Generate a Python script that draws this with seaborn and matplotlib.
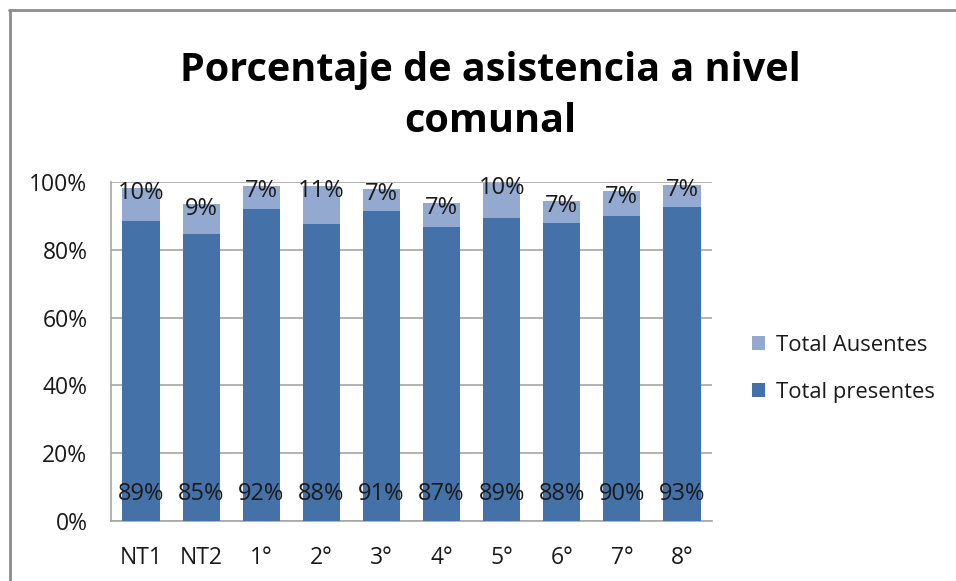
import matplotlib
matplotlib.use("Agg")
import matplotlib.pyplot as plt
import seaborn as sns
import pandas as pd
from matplotlib.patches import Patch
from matplotlib.lines import Line2D

categorias = ["NT1", "NT2", "1°", "2°", "3°", "4°", "5°", "6°", "7°", "8°"]
presentes = [88.6, 84.7, 92.0, 87.7, 91.4, 86.6, 89.3, 87.9, 90.0, 92.6]
ausentes = [9.7, 8.8, 6.7, 11.0, 6.6, 7.2, 10.4, 6.6, 7.2, 6.6]
y_ticks = [0, 20, 40, 60, 80, 100]
titulo = "Porcentaje de asistencia a nivel\ncomunal"
serie_presentes = "Total presentes"
serie_ausentes = "Total Ausentes"

c_pres = "#4472A8"
c_aus = "#93A9D0"
grid_c = "#A6A6A6"
txt_c = "#1a1a1a"

sns.set_theme(style="white")
plt.rcParams["font.family"] = ["Open Sans", "DejaVu Sans"]

df = pd.DataFrame({"cat": categorias, "pres": presentes, "aus": ausentes})
df["total"] = df["pres"] + df["aus"]

fig = plt.figure(figsize=(9.56, 5.81), dpi=100)
ax = fig.add_axes([111/956, 1 - 521/581, (712 - 111)/956, (521 - 182)/581])

sns.barplot(data=df, x="cat", y="total", color=c_aus, width=0.62, ax=ax,
            saturation=1, edgecolor="none", zorder=2)
sns.barplot(data=df, x="cat", y="pres", color=c_pres, width=0.62, ax=ax,
            saturation=1, edgecolor="none", zorder=3)

ax.set_ylim(0, 100)
ax.set_xlim(-0.5, len(categorias) - 0.5)
ax.set_yticks(y_ticks)
ax.set_yticklabels([f"{v}%" for v in y_ticks])
ax.set_xlabel("")
ax.set_ylabel("")
ax.yaxis.grid(True, color=grid_c, linewidth=1.2, zorder=0)
ax.set_axisbelow(True)
for s in ["top", "right"]:
    ax.spines[s].set_visible(False)
for s in ["left", "bottom"]:
    ax.spines[s].set_color(grid_c)
    ax.spines[s].set_linewidth(1.2)
ax.tick_params(axis="both", labelsize=16.5, length=0)
ax.tick_params(axis="x", pad=18)
ax.tick_params(axis="y", pad=17)
for lab in ax.get_xticklabels() + ax.get_yticklabels():
    lab.set_color(txt_c)

for i, (p, a) in enumerate(zip(presentes, ausentes)):
    ax.text(i, 8, f"{p:.0f}%", ha="center", va="center", fontsize=17,
            color=txt_c, zorder=5)
    ax.text(i, p + a - 1.5, f"{a:.0f}%", ha="center", va="center", fontsize=17,
            color=txt_c, zorder=5)

fig.text(490/956, 1 - 96/581, titulo, ha="center", va="center", fontsize=28.5,
         fontweight="bold", color="#000000", linespacing=1.42)

handles = [Patch(facecolor=c_aus, edgecolor="none"),
           Patch(facecolor=c_pres, edgecolor="none")]
leg = fig.legend(handles, [serie_ausentes, serie_presentes],
                 loc="center left", bbox_to_anchor=(732/956, 1 - 369/581),
                 frameon=False, fontsize=15.8, handlelength=0.6, handleheight=0.6,
                 handletextpad=0.5, labelspacing=1.2)
for t in leg.get_texts():
    t.set_color(txt_c)

fig.add_artist(Line2D([10/956, 10/956], [0, 1 - 10/581], transform=fig.transFigure,
                      color="#8C8C8C", linewidth=2))
fig.add_artist(Line2D([9/956, 1], [1 - 10/581, 1 - 10/581], transform=fig.transFigure,
                      color="#8C8C8C", linewidth=2))

fig.savefig("out.png", dpi=100, facecolor="white")
